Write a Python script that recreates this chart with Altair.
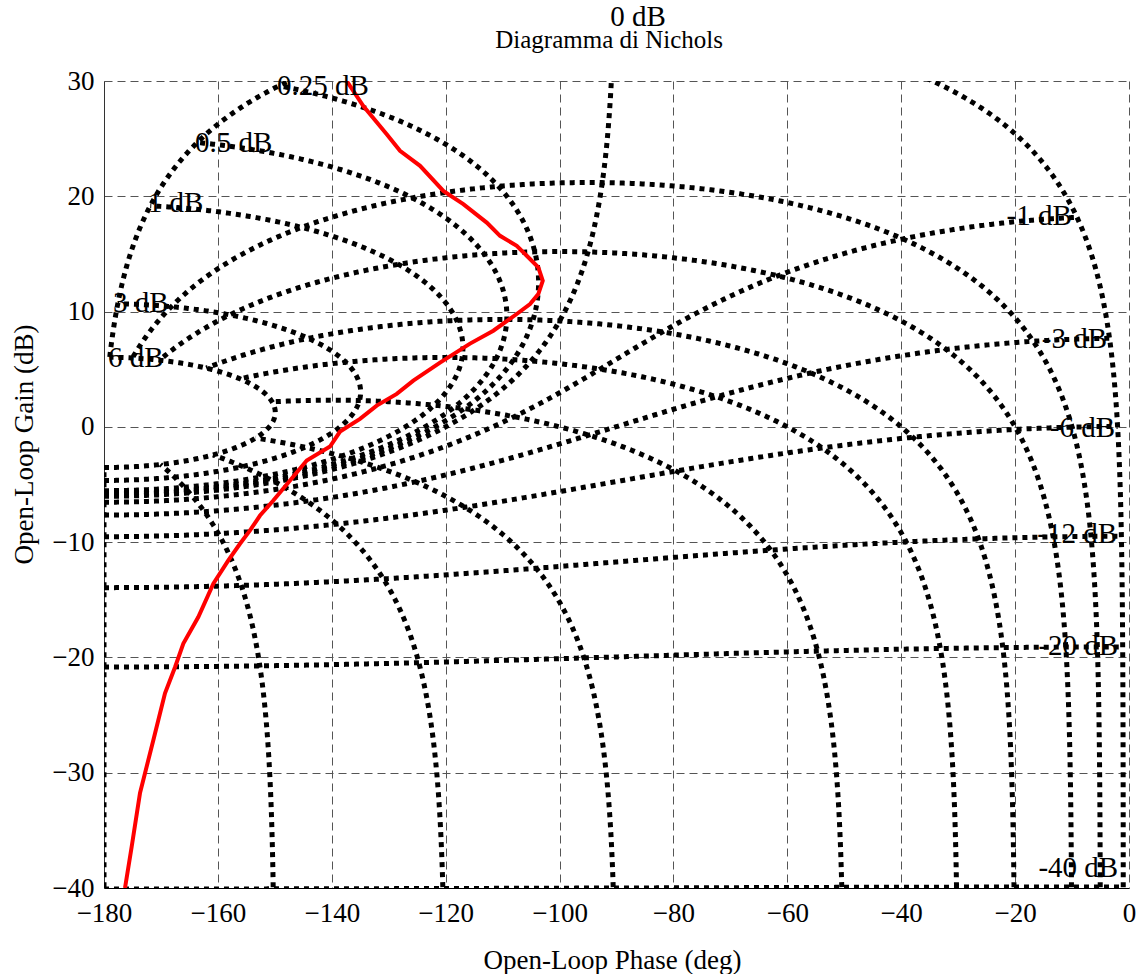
import numpy as np
import pandas as pd
import altair as alt

# ---- Nichols grid levels ----
# closed-loop magnitude contours (dB), as labelled in the chart
M_LEVELS_DB = [6, 3, 1, 0.5, 0.25, 0, -1, -3, -6, -12, -20, -40]
# closed-loop phase contours (deg), where they meet the bottom of the chart
N_LEVELS_DEG = [-1, -5, -10, -20, -30, -50, -90, -120, -150, -180]
# phase contours stop on the innermost (6 dB) magnitude contour,
# magnitude contours stop on the outermost (-1 deg) phase contour
N_MAX_CLOSED_LOOP_DB = 6
M_PHASE_RANGE_DEG = [-180, -1]

# ---- open-loop response (red curve) ----
RESP_PHASE = [-137.38, -134.46, -130.35, -128.02, -124.50, -120.41, -116.90, -112.79,
              -110.45, -107.52, -105.76, -103.73, -102.95, -103.73, -105.18, -107.52,
              -111.63, -115.72, -120.99, -125.68, -128.59, -132.11, -135.04, -138.55,
              -140.31, -144.40, -147.33, -150.27, -152.60, -154.36, -156.12, -158.17,
              -160.80, -163.44, -166.07, -167.53, -169.29, -171.34, -172.80, -173.68,
              -175.14, -176.31]
RESP_GAIN = [30.0, 27.83, 25.38, 23.94, 22.64, 20.47, 19.32, 17.72,
             16.57, 15.71, 14.84, 13.83, 12.67, 11.52, 10.65, 9.79,
             8.34, 7.22, 5.57, 4.01, 2.86, 1.84, 0.69, -0.41,
             -1.71, -2.92, -4.65, -6.39, -7.69, -8.98, -10.14, -11.58,
             -13.60, -16.50, -18.80, -20.85, -23.11, -27.18, -30.04, -31.77,
             -36.42, -40.0]

# ---- contour labels (start of text for positive levels, end of text for negative) ----
LEFT_LABEL_TEXT = ["0.25 dB", "0.5 dB", "1 dB", "3 dB", "6 dB", "0 dB"]
LEFT_LABEL_PHASE = [-149.6, -164.0, -172.3, -178.4, -179.3, -91.1]
LEFT_LABEL_GAIN = [28.79, 23.87, 18.66, 9.99, 5.22, 34.75]

RIGHT_LABEL_TEXT = ["-1 dB", "-3 dB", "-6 dB", "-12 dB", "-20 dB", "-40 dB"]
RIGHT_LABEL_PHASE = [-10.05, -3.85, -2.45, -2.1, -1.9, -1.9]
RIGHT_LABEL_GAIN = [17.51, 6.82, -0.85, -10.10, -19.78, -39.01]

TITLE_TEXT = "Diagramma di Nichols"
TITLE_PHASE = -91.3
TITLE_GAIN = 32.85

X_TICKS = list(range(-180, 1, 20))
Y_TICKS = list(range(-40, 31, 10))

PLOT_W, PLOT_H = 1025, 807
PX_PER_DEG = PLOT_W / 180.0
PX_PER_DB = PLOT_H / 70.0


def to_nichols(G):
    mag = np.abs(G)
    gain = 20 * np.log10(mag)
    phase = -np.degrees(np.arccos(np.clip(G.real / mag, -1.0, 1.0)))
    return phase, gain


def thin(phase, gain, step=1.5):
    keep_p, keep_g = [phase[0]], [gain[0]]
    lx, ly = phase[0] * PX_PER_DEG, gain[0] * PX_PER_DB
    for p, g in zip(phase[1:], gain[1:]):
        x, y = p * PX_PER_DEG, g * PX_PER_DB
        if (x - lx) ** 2 + (y - ly) ** 2 >= step * step:
            keep_p.append(p)
            keep_g.append(g)
            lx, ly = x, y
    keep_p.append(phase[-1])
    keep_g.append(gain[-1])
    return keep_p, keep_g


rows = []


def add_curve(name, G):
    ph, gn = to_nichols(G)
    ok = np.isfinite(gn) & (gn >= -46) & (gn <= 38)
    ph, gn = ph[ok], gn[ok]
    if len(ph) < 2:
        return
    ph, gn = thin(ph, gn)
    for i, (p, g) in enumerate(zip(ph, gn)):
        rows.append({"curve": name, "idx": i, "phase": float(p), "gain": float(g)})


# magnitude contours |T| = M, T = G/(1+G), swept over closed-loop phase
psi_sweep = np.radians(np.linspace(M_PHASE_RANGE_DEG[0], M_PHASE_RANGE_DEG[1], 40000))
for mdb in M_LEVELS_DB:
    T = 10 ** (mdb / 20.0) * np.exp(1j * psi_sweep)
    add_curve(f"M{mdb}", T / (1 - T))

# phase contours arg(T) = psi, swept over closed-loop gain up to the 6 dB contour
t = np.geomspace(1e-3, 10 ** (N_MAX_CLOSED_LOOP_DB / 20.0), 40000)
for psi in N_LEVELS_DEG:
    T = t * np.exp(1j * np.radians(psi))
    add_curve(f"N{psi}", T / (1 - T))

grid_df = pd.DataFrame(rows)
resp_df = pd.DataFrame({"phase": RESP_PHASE, "gain": RESP_GAIN, "idx": range(len(RESP_PHASE))})
left_df = pd.DataFrame({"text": LEFT_LABEL_TEXT, "phase": LEFT_LABEL_PHASE, "gain": LEFT_LABEL_GAIN})
right_df = pd.DataFrame({"text": RIGHT_LABEL_TEXT, "phase": RIGHT_LABEL_PHASE, "gain": RIGHT_LABEL_GAIN})
title_df = pd.DataFrame({"text": [TITLE_TEXT], "phase": [TITLE_PHASE], "gain": [TITLE_GAIN]})

FONT = "Liberation Serif"

x_enc = alt.X(
    "phase:Q",
    scale=alt.Scale(domain=[-180, 0], nice=False, zero=False),
    axis=alt.Axis(
        values=X_TICKS, title="Open-Loop Phase (deg)", grid=True, gridDash=[8, 5],
        gridColor="#555555", gridWidth=1, ticks=False, labelFont=FONT, labelFontSize=27,
        labelColor="black", labelPadding=12, labelFlush=False, labelOverlap=False,
        domainColor="black", domainWidth=1, titleFont=FONT, titleFontSize=27,
        titleFontWeight="normal", titleColor="black", titleX=508, titleY=80,
        titleBaseline="alphabetic", titleAlign="center",
    ),
)
y_enc = alt.Y(
    "gain:Q",
    scale=alt.Scale(domain=[-40, 30], nice=False, zero=False),
    axis=alt.Axis(
        values=Y_TICKS, title="Open-Loop Gain (dB)", grid=True, gridDash=[8, 5],
        gridColor="#555555", gridWidth=1, ticks=False, labelFont=FONT, labelFontSize=27,
        labelColor="black", labelPadding=10, labelFlush=False, labelOverlap=False,
        domainColor="#333333", domainWidth=1, titleFont=FONT, titleFontSize=27,
        titleFontWeight="normal", titleColor="black", titleX=-72, titleY=363,
        titleAngle=270, titleBaseline="alphabetic", titleAlign="center",
    ),
)

grid_layer = alt.Chart(grid_df).mark_line(
    clip=True, color="black", strokeWidth=5, strokeDash=[5, 5], strokeCap="butt"
).encode(x=x_enc, y=y_enc, detail="curve:N", order="idx:Q")

resp_layer = alt.Chart(resp_df).mark_line(
    clip=True, color="#ff0000", strokeWidth=4
).encode(x="phase:Q", y="gain:Q", order="idx:Q")

left_layer = alt.Chart(left_df).mark_text(
    font=FONT, fontSize=29, align="left", baseline="alphabetic", color="black"
).encode(x="phase:Q", y="gain:Q", text="text:N")

right_layer = alt.Chart(right_df).mark_text(
    font=FONT, fontSize=29, align="right", baseline="alphabetic", color="black"
).encode(x="phase:Q", y="gain:Q", text="text:N")

title_layer = alt.Chart(title_df).mark_text(
    font=FONT, fontSize=25, align="center", baseline="alphabetic", color="black"
).encode(x="phase:Q", y="gain:Q", text="text:N")

chart = alt.layer(grid_layer, resp_layer, left_layer, right_layer, title_layer).properties(
    width=PLOT_W,
    height=PLOT_H,
    padding={"left": 104, "top": 81, "right": 13, "bottom": 86},
    autosize=alt.AutoSizeParams(type="none"),
    background="white",
).configure_view(strokeWidth=0)

chart.save("out.html", embed_options={"renderer": "svg", "actions": False})
